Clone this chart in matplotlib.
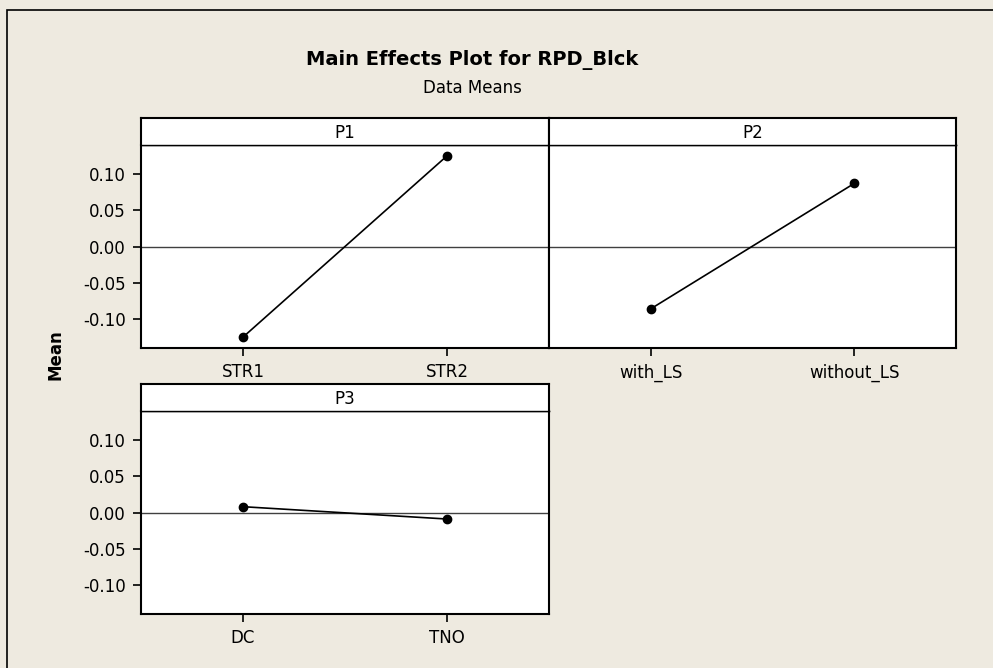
import matplotlib
matplotlib.use("Agg")
import matplotlib.pyplot as plt
from matplotlib.patches import Rectangle

# data means
factors = ["P1", "P2", "P3"]
levels = [["STR1", "STR2"], ["with_LS", "without_LS"], ["DC", "TNO"]]
means = [[-0.125, 0.125], [-0.086, 0.087], [0.008, -0.009]]
yticks = [-0.10, -0.05, 0.00, 0.05, 0.10]

W, H = 993, 668
bg = "#EEEAE0"
plt.rcParams['font.family'] = ['DejaVu Sans']

fig = plt.figure(figsize=(W / 100, H / 100), dpi=100)
fig.patch.set_facecolor(bg)

# outer frame (runs off the right and bottom edge in the original)
fig.patches.append(Rectangle((7 / W, -0.1), 1.2, (H - 10) / H + 0.1,
                             transform=fig.transFigure, fill=False,
                             edgecolor="black", linewidth=1.2))

# panel boxes in pixels: left, right, top of plot area, bottom of plot area
boxes = [(141, 549, 145, 348), (549, 956, 145, 348), (141, 549, 411, 614)]
strip_h = 27
fs = 12

for k in range(3):
    l, r, t, b = boxes[k]
    ax = fig.add_axes([l / W, (H - b) / H, (r - l) / W, (b - t) / H])
    ax.set_facecolor("white")
    ax.axhline(0, color="#404040", linewidth=1.0, zorder=1)
    ax.plot([0, 1], means[k], color="black", linewidth=1.2,
            marker="o", markersize=6, zorder=3)
    ax.set_xlim(-0.5, 1.5)
    ax.set_ylim(-0.14, 0.14)
    ax.set_xticks([0, 1])
    ax.set_xticklabels(levels[k], fontsize=fs)
    ax.set_yticks(yticks)
    if k == 1:
        ax.tick_params(axis="y", left=False, labelleft=False)
    else:
        ax.set_yticklabels(["%.2f" % v for v in yticks], fontsize=fs)
    ax.tick_params(direction="out", length=6, width=1.2, pad=5)
    for s in ax.spines.values():
        s.set_linewidth(1.5)
    ax.spines["top"].set_linewidth(1.0)

    # strip with factor name
    sa = fig.add_axes([l / W, (H - t) / H, (r - l) / W, strip_h / H])
    sa.set_facecolor("white")
    sa.set_xticks([])
    sa.set_yticks([])
    for s in sa.spines.values():
        s.set_linewidth(1.5)
    sa.spines["bottom"].set_linewidth(1.0)
    sa.text(0.5, 0.45, factors[k], ha="center", va="center", fontsize=fs,
            transform=sa.transAxes)

fig.text(472 / W, 1 - 60 / H, "Main Effects Plot for RPD_Blck",
         ha="center", va="center", fontsize=14, fontweight="bold")
fig.text(472 / W, 1 - 88 / H, "Data Means", ha="center", va="center",
         fontsize=fs)
fig.text(55 / W, 1 - 355 / H, "Mean", ha="center", va="center",
         rotation=90, fontsize=fs, fontweight="bold")

fig.savefig("out.png", dpi=100, facecolor=bg)
